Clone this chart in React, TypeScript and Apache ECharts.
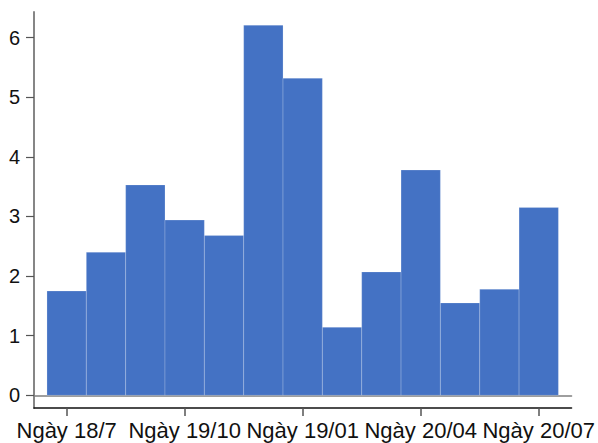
import React, { useEffect, useRef } from "react";
import * as echarts from "echarts";

const barValues = [1.75, 2.4, 3.53, 2.94, 2.68, 6.21, 5.32, 1.14, 2.07, 3.78, 1.55, 1.78, 3.15];
const tickPositions = [0, 3, 6, 9, 12];
const tickLabels = ["Ngày 18/7", "Ngày 19/10", "Ngày 19/01", "Ngày 20/04", "Ngày 20/07"];
const yTicks = [0, 1, 2, 3, 4, 5, 6];

const FONT = "'Liberation Sans', Arial, sans-serif";

export default function App() {
  const ref = useRef<HTMLDivElement>(null);
  useEffect(() => {
    if (!ref.current) return;
    const chart = echarts.init(ref.current, null, { renderer: "svg" });
    const xMin = -0.83;
    const xMax = 12.835;
    chart.setOption({
      animation: false,
      backgroundColor: "#ffffff",
      grid: { left: 34, right: 26, top: 12, bottom: 35, containLabel: false },
      xAxis: [
        {
          type: "value",
          min: xMin,
          max: xMax,
          position: "bottom",
          axisLine: { show: true, onZero: false, lineStyle: { color: "#111111", width: 1.5 } },
          axisTick: {
            show: true,
            customValues: tickPositions,
            length: 8,
            lineStyle: { color: "#555555", width: 1.5 },
          },
          axisLabel: {
            show: true,
            customValues: tickPositions,
            margin: 11,
            fontSize: 22,
            fontFamily: FONT,
            color: "#111111",
            formatter: (v: number) => {
              const idx = tickPositions.indexOf(Math.round(v));
              return idx >= 0 ? tickLabels[idx] : "";
            },
          },
          splitLine: { show: false },
        },
        {
          type: "value",
          min: xMin,
          max: xMax,
          position: "bottom",
          axisLine: { show: true, onZero: true, lineStyle: { color: "#7f7f7f", width: 1.5 } },
          axisTick: { show: false },
          axisLabel: { show: false },
          splitLine: { show: false },
        },
      ],
      yAxis: {
        type: "value",
        min: -0.213,
        max: 6.431,
        axisLine: { show: true, onZero: false, lineStyle: { color: "#868686", width: 2 } },
        axisTick: {
          show: true,
          customValues: yTicks,
          length: 8,
          lineStyle: { color: "#555555", width: 1.2 },
        },
        axisLabel: {
          show: true,
          customValues: yTicks,
          margin: 14,
          fontSize: 20,
          fontFamily: FONT,
          color: "#111111",
        },
        splitLine: { show: false },
      },
      series: [
        {
          type: "custom",
          xAxisIndex: 0,
          yAxisIndex: 0,
          data: barValues.map((v, i) => [i, v]),
          renderItem: (params: any, api: any) => {
            const i = api.value(0);
            const v = api.value(1);
            const p0 = api.coord([i - 0.5, v]);
            const p1 = api.coord([i + 0.5, 0]);
            return {
              type: "rect",
              shape: { x: p0[0], y: p0[1], width: p1[0] - p0[0], height: p1[1] - p0[1] },
              style: { fill: "#4472C4", stroke: "rgba(255,255,255,0.2)", lineWidth: 1 },
            };
          },
          encode: { x: 0, y: 1 },
        },
      ],
    });
    return () => chart.dispose();
  }, []);
  return (
    <div
      ref={ref}
      style={{ position: "fixed", left: 0, top: 0, width: 598, height: 443 }}
    />
  );
}
